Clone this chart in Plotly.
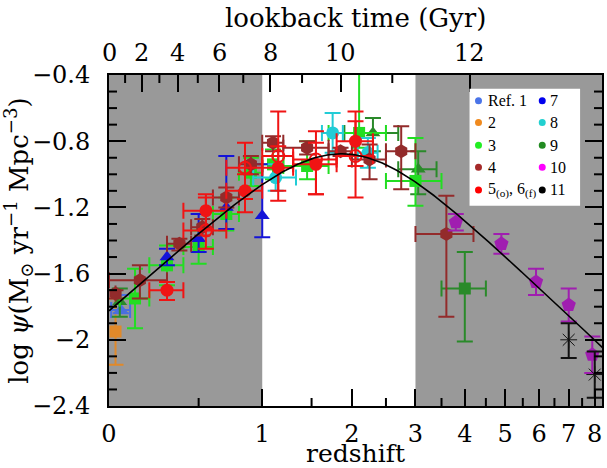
import numpy as np
import plotly.graph_objects as go

# ---------------- data (redshift ranges, log SFR density) ----------------
# Ref.1
r1_z = [0.055]; r1_zmin = [0.01]; r1_zmax = [0.10]
r1_y = [-1.82]; r1_ep = [0.09]; r1_em = [0.02]
# Ref.2
r2_z = [0.03]; r2_y = [-1.95]; r2_ep = [0.20]; r2_em = [0.20]
# Ref.3
r3_z = [0.125, 0.30, 0.50, 0.70, 0.90, 1.10, 1.45, 2.10, 3.00]
r3_zmin = [0.05, 0.20, 0.40, 0.60, 0.80, 1.00, 1.20, 1.70, 2.50]
r3_zmax = [0.20, 0.40, 0.60, 0.80, 1.00, 1.20, 1.70, 2.50, 3.50]
r3_y = [-1.75, -1.55, -1.44, -1.24, -0.99, -0.94, -0.95, -0.75, -1.04]
r3_ep = [0.18, 0.12, 0.10, 0.10, 0.09, 0.09, 0.15, 0.49, 0.26]
r3_em = [0.18, 0.12, 0.10, 0.10, 0.08, 0.09, 0.08, 0.09, 0.15]
# Ref.4
r4_z = [0.03, 0.15, 0.375, 0.525, 0.70, 0.90, 1.10, 1.45, 1.85, 2.25, 2.75, 3.60]
r4_zmin = [0.03, 0.00, 0.30, 0.45, 0.60, 0.80, 1.00, 1.20, 1.70, 2.00, 2.50, 3.00]
r4_zmax = [0.03, 0.30, 0.45, 0.60, 0.80, 1.00, 1.20, 1.70, 2.00, 2.50, 3.00, 4.20]
r4_y = [-1.72, -1.64, -1.42, -1.32, -1.14, -0.94, -0.81, -0.84, -0.86, -0.91, -0.86, -1.36]
r4_ep = [0.02, 0.09, 0.03, 0.05, 0.06, 0.05, 0.04, 0.04, 0.02, 0.09, 0.15, 0.23]
r4_em = [0.03, 0.11, 0.04, 0.05, 0.06, 0.06, 0.05, 0.04, 0.03, 0.12, 0.23, 0.50]
# Ref.5 (open)
r5_z = [0.55, 0.85, 1.15, 1.55, 2.05]
r5_zmin = [0.40, 0.70, 1.00, 1.30, 1.80]
r5_zmax = [0.70, 1.00, 1.30, 1.80, 2.30]
r5_y = [-1.34, -0.96, -0.89, -0.91, -0.89]
r5_ep = [0.22, 0.15, 0.27, 0.17, 0.21]
r5_em = [0.11, 0.19, 0.21, 0.21, 0.25]
# Ref.6 (filled)
r6_z = [0.30, 0.55, 0.85, 1.15, 1.55, 2.05]
r6_zmin = [0.20, 0.40, 0.70, 1.00, 1.30, 1.80]
r6_zmax = [0.40, 0.70, 1.00, 1.30, 1.80, 2.30]
r6_y = [-1.70, -1.22, -1.10, -0.96, -0.94, -0.80]
r6_ep = [0.05, 0.08, 0.10, 0.13, 0.13, 0.18]
r6_em = [0.06, 0.11, 0.13, 0.20, 0.18, 0.15]
# Ref.7
r7_z = [0.30, 0.50, 0.70, 1.00]
r7_y = [-1.50, -1.39, -1.20, -1.25]
r7_ep = [0.05, 0.15, 0.31, 0.31]
r7_em = [0.05, 0.08, 0.13, 0.13]
# Ref.8
r8_z = [1.125, 1.75, 2.225]
r8_zmin = [0.92, 1.62, 2.08]
r8_zmax = [1.33, 1.88, 2.37]
r8_y = [-1.02, -0.75, -0.87]
r8_ep = [0.08, 0.12, 0.09]
r8_em = [0.08, 0.12, 0.09]
# Ref.9
r9t_z = [0.05, 2.30, 3.05]
r9t_zmin = [0.05, 1.90, 2.70]
r9t_zmax = [0.05, 2.70, 3.40]
r9t_y = [-1.77, -0.75, -0.97]
r9t_ep = [0.08, 0.09, 0.11]
r9t_em = [0.09, 0.11, 0.15]
r9s_z = [4.00]; r9s_zmin = [3.50]; r9s_zmax = [4.50]
r9s_y = [-1.69]; r9s_ep = [0.22]; r9s_em = [0.32]
# Ref.10
r10_z = [3.8, 4.9, 5.9, 7.0, 7.9]
r10_y = [-1.29, -1.42, -1.65, -1.79, -2.09]
r10_ep = [0.05, 0.06, 0.08, 0.10, 0.11]
r10_em = [0.05, 0.06, 0.08, 0.10, 0.11]
# Ref.11
r11_z = [7.0, 8.0]
r11_y = [-2.00, -2.21]
r11_ep = [0.10, 0.14]
r11_em = [0.11, 0.14]

# fit curve parameters
fit_a, fit_b, fit_c, fit_d = 0.015, 2.7, 2.9, 5.6

# axis ticks
z_ticks = [0, 1, 2, 3, 4, 5, 6, 7, 8]
z_minor = [0.5, 1.5, 2.5, 3.5, 4.5, 5.5, 6.5, 7.5]
lb_ticks = [0, 2, 4, 6, 8, 10, 12]
lb_minor = [1, 3, 5, 7, 9, 11]
y_ticks = [-2.4, -2.0, -1.6, -1.2, -0.8, -0.4]
y_ticktext = ["\u22122.4", "\u22122", "\u22121.6", "\u22121.2", "\u22120.8", "\u22120.4"]
y_minor = [-2.3, -2.2, -2.1, -1.9, -1.8, -1.7, -1.5, -1.4, -1.3, -1.1, -1.0, -0.9, -0.7, -0.6, -0.5]

# cosmology for lookback-time axis (H0=70, Om=0.3, OL=0.7)
H0, Om, OL = 70.0, 0.3, 0.7
zg = np.linspace(0, 20, 20001)
Ez = np.sqrt(Om * (1 + zg) ** 3 + OL)
integrand = 1.0 / ((1 + zg) * Ez)
tl = 977.8 / H0 * np.concatenate([[0], np.cumsum(0.5 * (integrand[1:] + integrand[:-1]) * np.diff(zg))])
def lb_to_z(t):
    return float(np.interp(t, tl, zg))

# --------------- colours ---------------
C1 = "#4a6fe0"; C2 = "#e0892a"; C3 = "#22dd22"; C4 = "#932b2b"; C56 = "#f01414"
C7 = "#1414d8"; C8 = "#22ccd6"; C9 = "#2a8a2a"; C10 = "#a01eb0"; C11 = "#111111"

fig = go.Figure()

def opz(z):
    return [1 + v for v in z]

def add(z, y, ep, em, color, symbol, size=13, zmin=None, zmax=None, open_=False):
    xe = None
    if zmin is not None:
        xe = dict(type="data", symmetric=False,
                  array=[hi - v for v, hi in zip(z, zmax)],
                  arrayminus=[v - lo for v, lo in zip(z, zmin)],
                  color=color, thickness=2, width=8)
    marker = dict(color=color, symbol=symbol, size=size)
    if open_:
        marker = dict(color=color, symbol=symbol, size=size, line=dict(color=color, width=2))
    fig.add_trace(go.Scatter(
        x=opz(z), y=y, mode="markers", marker=marker, showlegend=False,
        error_y=dict(type="data", symmetric=False, array=ep, arrayminus=em,
                     color=color, thickness=2, width=8),
        error_x=xe, hoverinfo="skip"))

add(r2_z, r2_y, r2_ep, r2_em, C2, "square", 12)
add(r1_z, r1_y, r1_ep, r1_em, C1, "triangle-up", 13, r1_zmin, r1_zmax)
add(r9t_z, r9t_y, r9t_ep, r9t_em, C9, "triangle-up", 13, r9t_zmin, r9t_zmax)
add(r3_z, r3_y, r3_ep, r3_em, C3, "square", 12, r3_zmin, r3_zmax)
add(r9s_z, r9s_y, r9s_ep, r9s_em, C9, "square", 12, r9s_zmin, r9s_zmax)
add(r7_z, r7_y, r7_ep, r7_em, C7, "triangle-up", 13)
add(r8_z, r8_y, r8_ep, r8_em, C8, "circle", 13, r8_zmin, r8_zmax)
add(r4_z, r4_y, r4_ep, r4_em, C4, "hexagon", 14, r4_zmin, r4_zmax)
add(r5_z, r5_y, r5_ep, r5_em, C56, "circle-open", 12, r5_zmin, r5_zmax, open_=True)
add(r6_z, r6_y, r6_ep, r6_em, C56, "circle", 13, r6_zmin, r6_zmax)
add(r10_z, r10_y, r10_ep, r10_em, C10, "pentagon", 15)
add(r11_z, r11_y, r11_ep, r11_em, C11, "asterisk-open", 14)

# fit curve
zc = np.linspace(0, 8.4, 400)
psi = fit_a * (1 + zc) ** fit_b / (1 + ((1 + zc) / fit_c) ** fit_d)
fig.add_trace(go.Scatter(x=1 + zc, y=np.log10(psi), mode="lines",
                         line=dict(color="black", width=1.6), showlegend=False, hoverinfo="skip"))

# invisible trace for top axis
fig.add_trace(go.Scatter(x=[1.0], y=[-1.0], xaxis="x2", mode="markers",
                         marker=dict(opacity=0), showlegend=False, hoverinfo="skip"))

XMAX = 9.3
GRAY = "#999999"
fig.add_shape(type="rect", xref="x", yref="paper", x0=1.0, x1=2.0, y0=0, y1=1,
              fillcolor=GRAY, line=dict(width=0), layer="below")
fig.add_shape(type="rect", xref="x", yref="paper", x0=4.0, x1=XMAX, y0=0, y1=1,
              fillcolor=GRAY, line=dict(width=0), layer="below")

# minor ticks drawn as short line shapes
MINLEN = 8
TK = dict(color="black", width=2)
for v in z_minor:
    fig.add_shape(type="line", xref="x", yref="paper", ysizemode="pixel", yanchor=0,
                  x0=1 + v, x1=1 + v, y0=0, y1=MINLEN, line=TK, layer="above")
for t in lb_minor:
    zz = 1 + lb_to_z(t)
    fig.add_shape(type="line", xref="x", yref="paper", ysizemode="pixel", yanchor=1,
                  x0=zz, x1=zz, y0=-MINLEN, y1=0, line=TK, layer="above")
for v in y_minor:
    fig.add_shape(type="line", xref="paper", yref="y", xsizemode="pixel", xanchor=0,
                  x0=0, x1=MINLEN, y0=v, y1=v, line=TK, layer="above")
    fig.add_shape(type="line", xref="paper", yref="y", xsizemode="pixel", xanchor=1,
                  x0=-MINLEN, x1=0, y0=v, y1=v, line=TK, layer="above")

TICKFONT = dict(family="DejaVu Serif", size=24, color="black")
TITLEFONT = dict(family="DejaVu Serif", size=26, color="black")

PX0, PY0, PW, PH = 109, 75, 495, 334
def px(x): return (x - PX0) / PW
def py(y): return 1 - (y - PY0) / PH

xr = [0, np.log10(XMAX)]
fig.update_layout(
    width=607, height=468,
    margin=dict(l=109, r=3, t=75, b=59),
    paper_bgcolor="white", plot_bgcolor="white",
    xaxis=dict(type="log", range=xr, showgrid=False, zeroline=False,
               showline=True, linecolor="black", linewidth=2,
               tickmode="array", tickvals=[1 + v for v in z_ticks],
               ticktext=[str(v) for v in z_ticks],
               ticks="inside", ticklen=17, tickwidth=2, tickcolor="black",
               tickfont=TICKFONT, ticklabelstandoff=5,
               title=dict(text="redshift", font=dict(family="DejaVu Serif", size=25, color="black"),
                          standoff=0)),
    xaxis2=dict(type="log", range=xr, overlaying="x", side="top", anchor="y",
                showgrid=False, zeroline=False,
                showline=True, linecolor="black", linewidth=2,
                tickmode="array", tickvals=[1 + lb_to_z(t) for t in lb_ticks],
                showticklabels=False,
                ticks="inside", ticklen=17, tickwidth=2, tickcolor="black"),
    yaxis=dict(range=[-2.4, -0.4], showgrid=False, zeroline=False,
               showline=True, linecolor="black", linewidth=2, mirror="ticks",
               tickmode="array", tickvals=y_ticks, ticktext=y_ticktext,
               ticks="inside", ticklen=17, tickwidth=2, tickcolor="black",
               tickfont=TICKFONT, ticklabelstandoff=12,
               title=dict(text="log <i>\u03c8</i>(M<sub>\u2299</sub> yr<sup>\u22121</sup> Mpc<sup>\u22123</sup>)",
                          font=TITLEFONT, standoff=4)),
)

# top axis labels (lookback time) and title
for t in lb_ticks:
    fig.add_annotation(xref="x2", yref="paper", x=np.log10(1 + lb_to_z(t)), y=py(53),
                       text=str(t), showarrow=False, xanchor="center", yanchor="middle",
                       font=TICKFONT)
fig.add_annotation(xref="paper", yref="paper", x=0.5, y=py(17), text="lookback time (Gyr)",
                   showarrow=False, xanchor="center", yanchor="middle", font=TITLEFONT)

# ---------------- legend (box + dots + labels) ----------------
leg_left = ["Ref. 1", "2", "3", "4", "5<sub>(o)</sub>, 6<sub>(f)</sub>"]
leg_right = ["7", "8", "9", "10", "11"]
leg_left_col = ["#4a74e8", "#f08a1e", "#22ee22", "#a52a2a", "#ff0000"]
leg_right_col = ["#0000ee", "#22d0d0", "#228b22", "#ff00ff", "#000000"]

fig.add_shape(type="rect", xref="paper", yref="paper", x0=px(471), x1=px(582), y0=py(207), y1=py(89),
              fillcolor="white", line=dict(width=0), layer="above")
rows = [101, 123, 146, 168, 191]
for i, yy in enumerate(rows):
    for (dx, tx, lab, col) in [(480, 488, leg_left[i], leg_left_col[i]), (544, 550, leg_right[i], leg_right_col[i])]:
        fig.add_shape(type="circle", xref="paper", yref="paper", xsizemode="pixel", ysizemode="pixel",
                      xanchor=px(dx), yanchor=py(yy), x0=-3.5, x1=3.5, y0=-3.5, y1=3.5,
                      fillcolor=col, line=dict(width=0), layer="above")
        fig.add_annotation(xref="paper", yref="paper", x=px(tx), y=py(yy), text=lab, showarrow=False,
                           xanchor="left", yanchor="middle",
                           font=dict(family="Liberation Serif", size=16, color="black"))

fig.write_html("out.html")
